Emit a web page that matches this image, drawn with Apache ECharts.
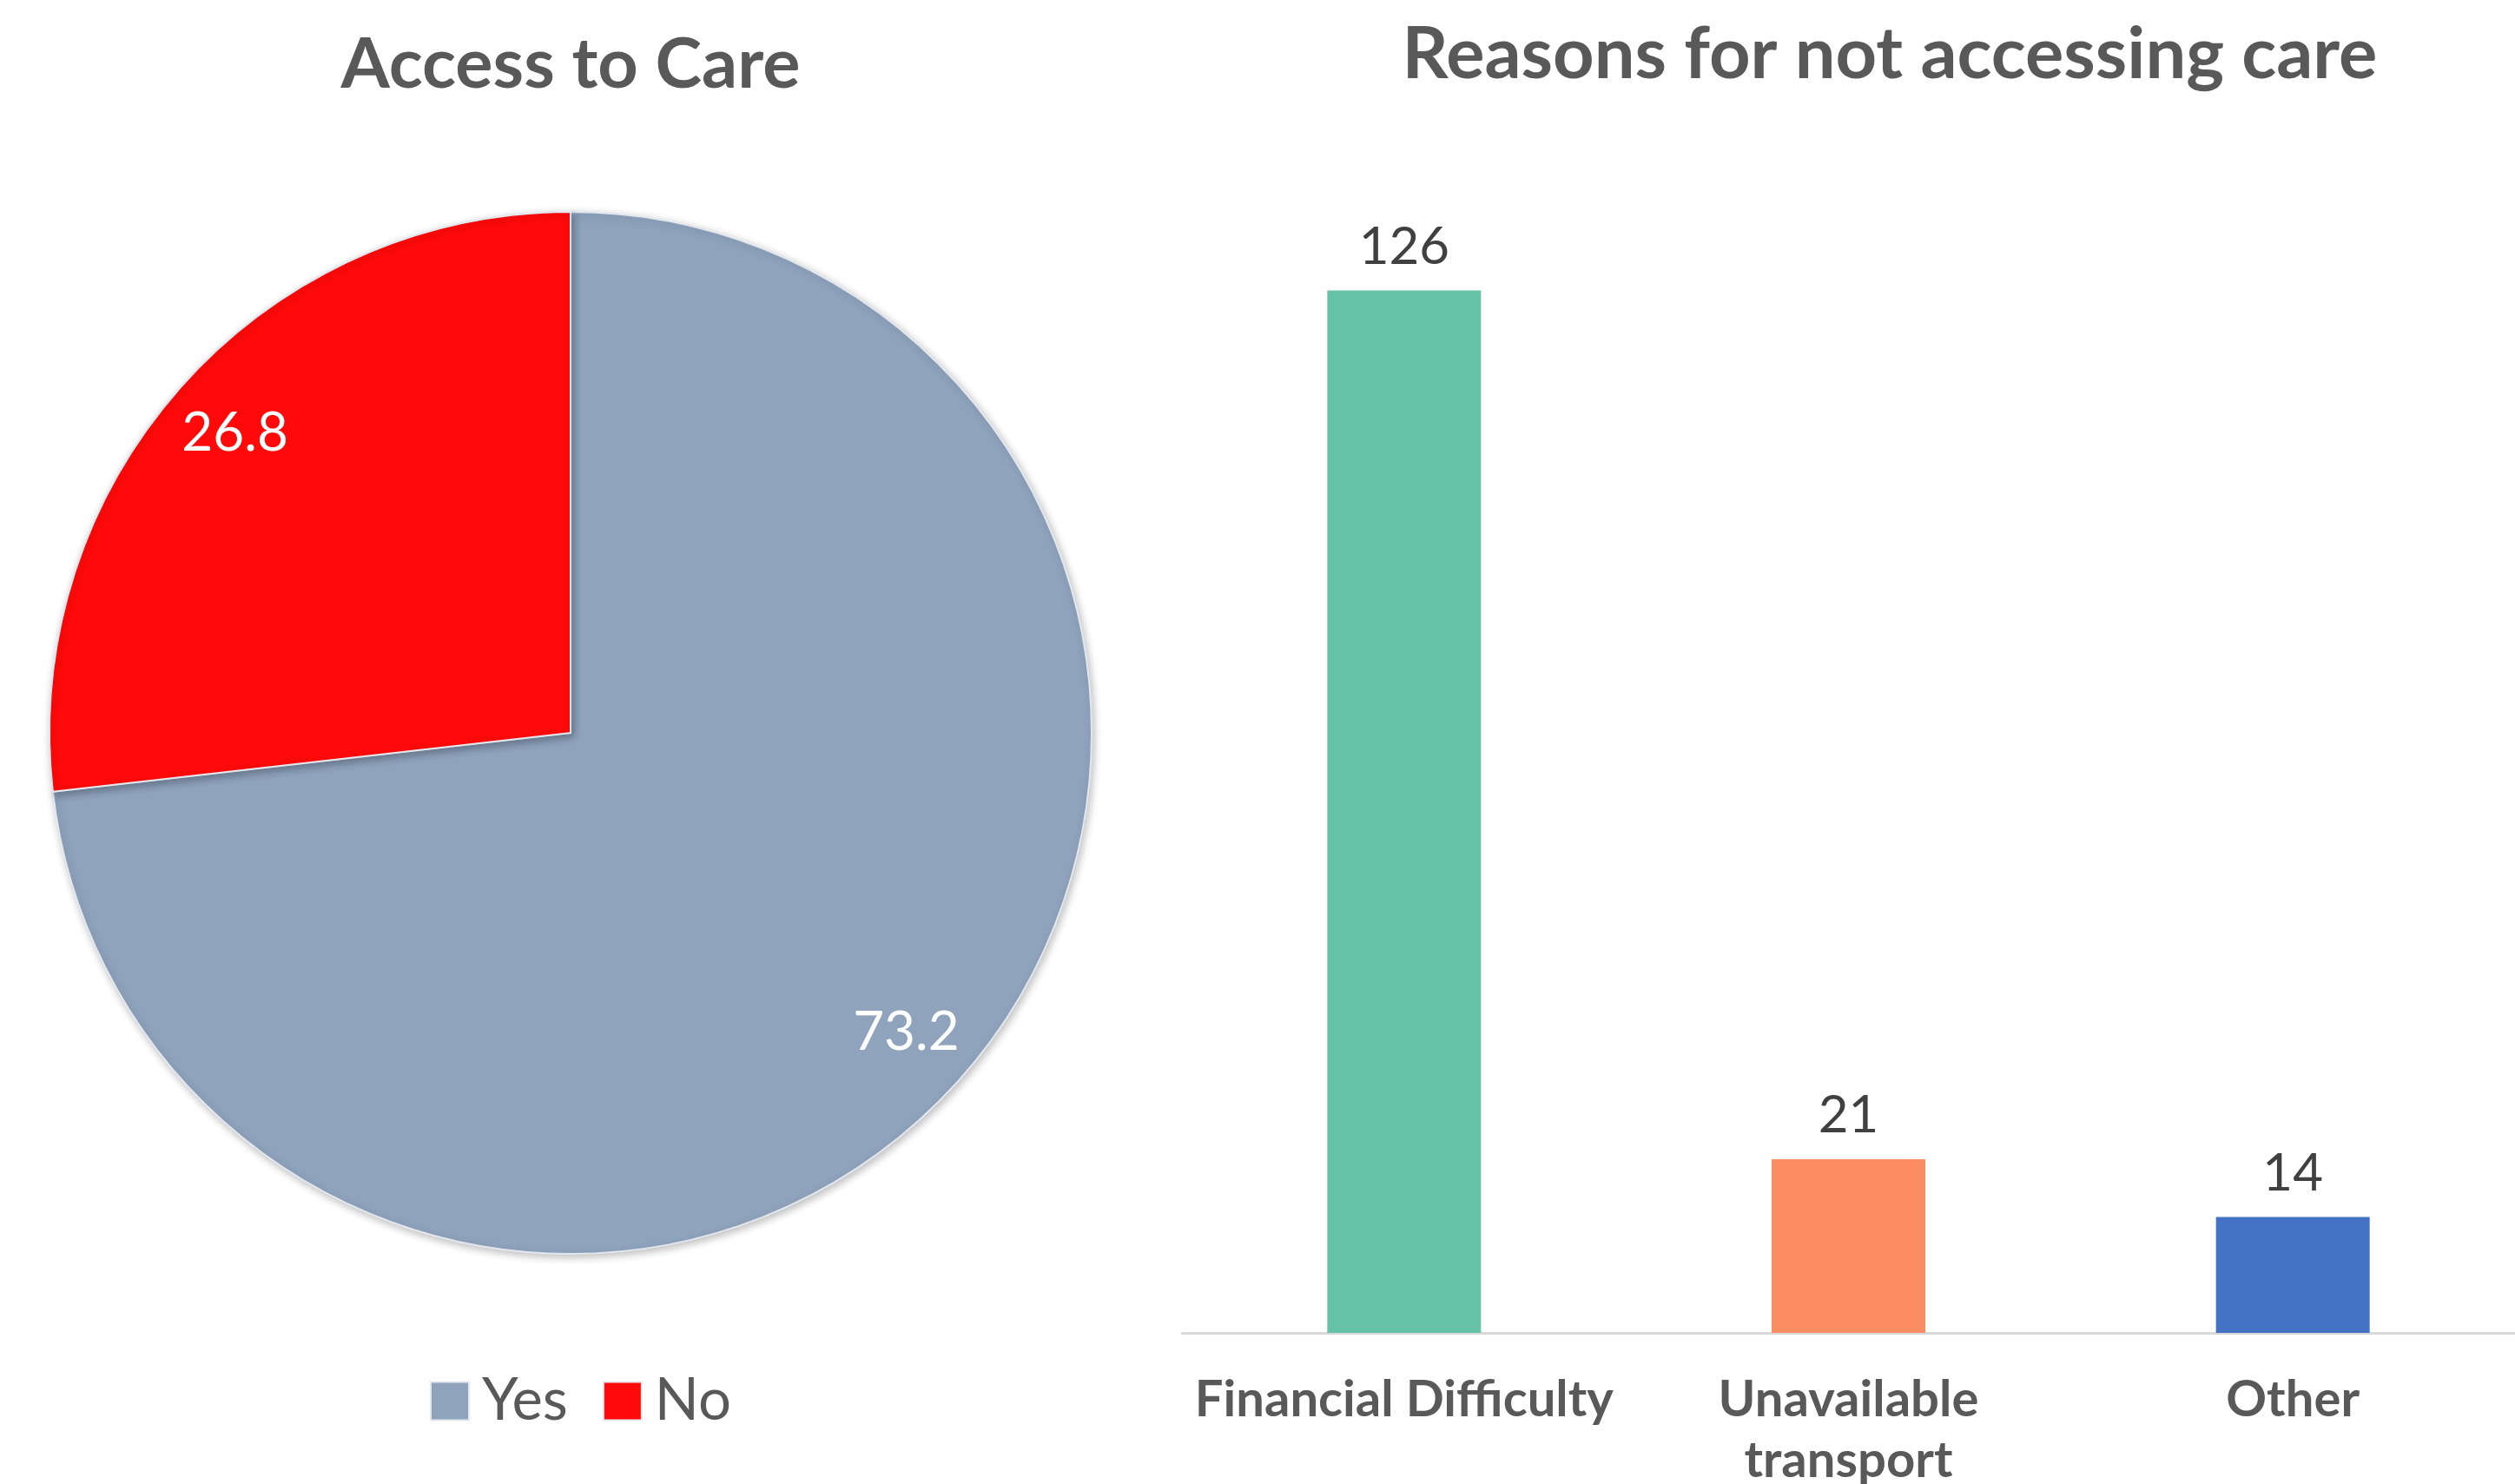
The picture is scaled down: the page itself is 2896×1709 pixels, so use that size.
<!DOCTYPE html>
<html>
<head>
<meta charset="utf-8">
<script src="https://cdn.jsdelivr.net/npm/echarts@6/dist/echarts.min.js"></script>
<style>
html,body{margin:0;padding:0;background:#fff;}
#main{width:2896px;height:1709px;}
</style>
</head>
<body>
<div id="main"></div>
<script>
// Data
const pieCategories = ['Yes', 'No'];
const pieValues = [73.2, 26.8];
const barCategories = ['Financial Difficulty', 'Unavailable\ntransport', 'Other'];
const barValues = [126, 21, 14];
const pieColors = ['#8FA3BD', '#FF0A0A'];
const barColors = ['#66C2A5', '#FC8D62', '#4472C4'];

const FONT = 'Lato, "Noto Sans", sans-serif';

const pieData = pieCategories.map((c, i) => ({ name: c, value: pieValues[i], itemStyle: { color: pieColors[i] } }));
const labelData = pieCategories.map((c, i) => ({ name: c, value: pieValues[i] }));
const barData = barValues.map((v, i) => ({ value: v, itemStyle: { color: barColors[i] } }));

const chart = echarts.init(document.getElementById('main'), null, { renderer: 'canvas' });
chart.setOption({
  backgroundColor: '#ffffff',
  animation: false,
  title: [
    { text: 'Access to Care', left: 657, top: 34, textAlign: 'center', padding: 0,
      textStyle: { fontFamily: FONT, fontWeight: 'bold', fontSize: 81, color: '#595959' } },
    { text: 'Reasons for not accessing care', left: 2176, top: 22, textAlign: 'center', padding: 0,
      textStyle: { fontFamily: FONT, fontWeight: 'bold', fontSize: 83, color: '#595959' } }
  ],
  legend: {
    data: pieCategories,
    left: 490, top: 1575,
    itemWidth: 44, itemHeight: 44, itemGap: 40,
    icon: 'rect',
    textStyle: { fontFamily: FONT, fontSize: 67, color: '#595959', padding: [0, 0, 0, 10] }
  },
  grid: { left: 1361, right: 0, top: 201, bottom: 174, containLabel: false, outerBoundsMode: 'none' },
  xAxis: {
    type: 'category', data: barCategories,
    axisLine: { show: true, lineStyle: { color: '#D9D9D9', width: 3 } },
    axisTick: { show: false },
    axisLabel: { fontFamily: FONT, fontWeight: 'bold', fontSize: 58, color: '#595959', margin: 42, lineHeight: 70, interval: 0 }
  },
  yAxis: { type: 'value', min: 0, max: 140, show: false, splitLine: { show: false } },
  series: [
    {
      type: 'pie', center: [657, 844], radius: 600,
      startAngle: 90, clockwise: true,
      data: pieData,
      label: { show: false }, labelLine: { show: false },
      itemStyle: { borderColor: '#E3E8EF', borderWidth: 2, shadowBlur: 10, shadowColor: 'rgba(0,0,0,0.25)', shadowOffsetX: 2, shadowOffsetY: 3 },
      emphasis: { disabled: true }
    },
    {
      type: 'pie', center: [657, 844], radius: [430, 600],
      startAngle: 90, clockwise: true,
      data: labelData, silent: true,
      itemStyle: { color: 'rgba(0,0,0,0)', borderWidth: 0 },
      label: { show: true, position: 'inside', formatter: p => p.value.toFixed(1),
        fontFamily: FONT, fontSize: 62, color: '#ffffff' },
      labelLine: { show: false },
      legendHoverLink: false,
      emphasis: { disabled: true }
    },
    {
      type: 'bar', data: barData, barWidth: 177,
      label: { show: true, position: 'top', distance: 20, fontFamily: FONT, fontSize: 60, color: '#404040' },
      emphasis: { disabled: true }
    }
  ]
});
</script>
</body>
</html>
